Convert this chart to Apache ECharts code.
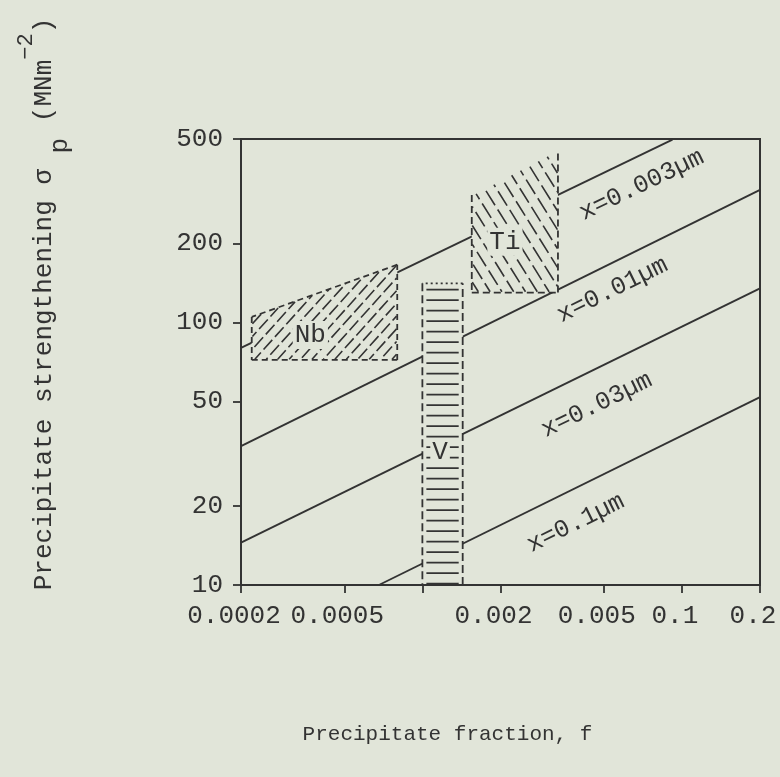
<!DOCTYPE html>
<html>
<head>
<meta charset="utf-8">
<script src="https://cdn.jsdelivr.net/npm/echarts@6/dist/echarts.min.js"></script>
<style>
  html, body { margin: 0; padding: 0; background: #e1e5d9; }
  #chart { width: 780px; height: 777px; }
</style>
</head>
<body>
<div id="chart"></div>
<script>
// Precipitate fraction axis (log scale): tick values and their printed labels
const fractionTicks = [0.0002, 0.0005, 0.001, 0.002, 0.005, 0.01, 0.02];
const fractionTickLabels = ['0.0002', '0.0005', '', '0.002', '0.005', '0.1', '0.2'];

// Precipitation strengthening axis (MN m^-2, log scale)
const strengthTicks = [10, 20, 50, 100, 200, 500];
const strengthTickLabels = ['10', '20', '50', '100', '200', '500'];

// Lines of constant particle size, [fraction, strength] end points
const sizeNames = ['x=0.003µm', 'x=0.01µm', 'x=0.03µm', 'x=0.1µm'];
const size003 = [[0.0002, 80], [0.0092, 497]];
const size01 = [[0.0002, 33.8], [0.02, 320]];
const size03 = [[0.0002, 14.5], [0.02, 135]];
const size1 = [[0.00068, 10], [0.02, 52]];
const sizeLabelAt = [[0.0070, 334], [0.0054, 133], [0.0047, 48.5], [0.0039, 17.2]];

// Ranges reached by each microalloying element, corners as [fraction, strength]
// (bottom-left, bottom-right, top-right, top-left)
const elementNames = ['Nb', 'Ti', 'V'];
const nbRange = [[0.00022, 72], [0.0008, 72], [0.0008, 166], [0.00022, 105]];
const tiRange = [[0.00155, 130], [0.00333, 130], [0.00333, 454], [0.00155, 306]];
const vRange = [[0.001, 10], [0.00143, 10], [0.00143, 141], [0.001, 141]];
const elementLabelAt = [[0.00037, 89.6], [0.00208, 203], [0.00117, 32.1]];

const sizeLines = [size003, size01, size03, size1];
const elementRanges = [nbRange, tiRange, vRange];

const INK = '#333333';
const PAPER = '#e1e5d9';
const FONT = '"Liberation Mono", "DejaVu Sans Mono", monospace';

// hatching and outline look of each range
const rangeLook = [
  { angle: 48, gap: 8.5, dash: [13, 4], inset: 1, edges: [0, 1, 2, 3], edgeDash: [6, 4] },
  { angle: 122, gap: 10, dash: [17, 5], inset: 1, edges: [0, 1, 3], edgeDash: [7, 4] },
  { angle: 0, gap: 10.5, dash: null, inset: 4, edges: [1, 3], edgeDash: [8, 4], dotted: [2] }
];

function tickText(values, texts) {
  return function (v) {
    const i = values.findIndex(t => Math.abs(t - v) <= t * 1e-6);
    return i < 0 ? '' : texts[i];
  };
}

function cross(u, v) { return u[0] * v[1] - u[1] * v[0]; }

// segment of the line o + t*d lying inside a convex polygon
function clipToPolygon(pts, o, d) {
  const ts = [];
  for (let k = 0; k < pts.length; k++) {
    const a = pts[k], b = pts[(k + 1) % pts.length];
    const e = [b[0] - a[0], b[1] - a[1]];
    const den = cross(d, e);
    if (Math.abs(den) < 1e-9) continue;
    const w = [a[0] - o[0], a[1] - o[1]];
    const t = cross(w, e) / den;
    const s = cross(w, d) / den;
    if (s >= -1e-9 && s <= 1 + 1e-9) ts.push(t);
  }
  if (ts.length < 2) return null;
  return [Math.min(...ts), Math.max(...ts)];
}

function renderRange(params, api) {
  const i = params.dataIndex;
  const look = rangeLook[i];
  const pts = elementRanges[i].map(c => api.coord(c));
  const children = [{ type: 'polygon', shape: { points: pts }, style: { fill: PAPER } }];

  const a = look.angle * Math.PI / 180;
  const d = [Math.cos(a), -Math.sin(a)];
  const n = [-d[1], d[0]];
  const proj = pts.map(p => p[0] * n[0] + p[1] * n[1]);
  const lo = Math.min(...proj), hi = Math.max(...proj);
  let idx = 0;
  for (let k = lo + look.gap * 0.6; k < hi; k += look.gap, idx++) {
    const o = [n[0] * k, n[1] * k];
    const seg = clipToPolygon(pts, o, d);
    if (!seg) continue;
    const t0 = seg[0] + look.inset, t1 = seg[1] - look.inset;
    if (t1 - t0 < 3) continue;
    children.push({
      type: 'line',
      shape: { x1: o[0] + d[0] * t0, y1: o[1] + d[1] * t0, x2: o[0] + d[0] * t1, y2: o[1] + d[1] * t1 },
      style: { stroke: INK, lineWidth: 1.6, lineDash: look.dash, lineDashOffset: (idx * 7) % 17 }
    });
  }

  const outline = (e, dash) => {
    const p = pts[e], q = pts[(e + 1) % pts.length];
    children.push({
      type: 'line',
      shape: { x1: p[0], y1: p[1], x2: q[0], y2: q[1] },
      style: { stroke: INK, lineWidth: 1.8, lineDash: dash }
    });
  };
  look.edges.forEach(e => outline(e, look.edgeDash));
  (look.dotted || []).forEach(e => outline(e, [2, 3]));

  const c = api.coord(elementLabelAt[i]);
  children.push({
    type: 'text', x: c[0], y: c[1],
    style: {
      text: elementNames[i], font: '26px ' + FONT, fill: INK,
      align: 'center', verticalAlign: 'middle', backgroundColor: PAPER, padding: [1, 2]
    }
  });
  return { type: 'group', children: children };
}

function renderSizeLabel(params, api) {
  const i = params.dataIndex;
  const p1 = api.coord(sizeLines[i][0]);
  const p2 = api.coord(sizeLines[i][1]);
  const angle = Math.atan2(p1[1] - p2[1], p2[0] - p1[0]);
  const c = api.coord(sizeLabelAt[i]);
  return {
    type: 'text', x: c[0], y: c[1], rotation: angle,
    style: { text: sizeNames[i], font: '25px ' + FONT, fill: INK, align: 'center', verticalAlign: 'middle' }
  };
}

const chart = echarts.init(document.getElementById('chart'), null, { renderer: 'canvas' });

const lineSeries = sizeLines.map((pts, i) => ({
  name: sizeNames[i],
  type: 'line',
  data: pts,
  symbol: 'none',
  silent: true,
  z: 2,
  lineStyle: { color: INK, width: 1.9 }
}));

chart.setOption({
  animation: false,
  backgroundColor: PAPER,
  grid: {
    left: 241, right: 20, top: 139, bottom: 192,
    show: true, borderColor: INK, borderWidth: 2, backgroundColor: 'transparent'
  },
  xAxis: {
    type: 'log', logBase: 10, min: 0.0002, max: 0.02, z: 6,
    name: 'Precipitate fraction, f',
    nameLocation: 'middle', nameGap: 139,
    nameTextStyle: { fontFamily: FONT, fontSize: 21, color: INK, padding: [0, 106, 0, 0] },
    axisLine: { lineStyle: { color: INK, width: 2 } },
    axisTick: { customValues: fractionTicks, length: 8, lineStyle: { color: INK, width: 1.8 } },
    axisLabel: {
      customValues: fractionTicks, formatter: tickText(fractionTicks, fractionTickLabels),
      fontFamily: FONT, fontSize: 26, color: INK, margin: 18, hideOverlap: false,
      padding: [0, 14, 0, 0]
    },
    splitLine: { show: false }, minorTick: { show: false }
  },
  yAxis: {
    type: 'log', logBase: 10, min: 10, max: 500, z: 6,
    name: '{m|Precipitate strengthening σ} {s|p} {m|(MNm}{u|−2}{m|)}',
    nameLocation: 'middle', nameRotate: 90, nameGap: 168,
    nameTextStyle: {
      fontFamily: FONT, fontSize: 26, color: INK, padding: [0, 0, 0, 116],
      rich: {
        m: { fontFamily: FONT, fontSize: 26, color: INK, lineHeight: 58 },
        s: { fontFamily: FONT, fontSize: 26, color: INK, lineHeight: 28, verticalAlign: 'bottom' },
        u: { fontFamily: FONT, fontSize: 22, color: INK, lineHeight: 24, verticalAlign: 'top' }
      }
    },
    axisLine: { lineStyle: { color: INK, width: 2 } },
    axisTick: { customValues: strengthTicks, length: 8, lineStyle: { color: INK, width: 1.8 } },
    axisLabel: {
      customValues: strengthTicks, formatter: tickText(strengthTicks, strengthTickLabels),
      fontFamily: FONT, fontSize: 26, color: INK, margin: 18, hideOverlap: false
    },
    splitLine: { show: false }, minorTick: { show: false }
  },
  series: lineSeries.concat([
    {
      name: 'ranges',
      type: 'custom',
      coordinateSystem: 'cartesian2d',
      data: elementLabelAt,
      encode: { x: 0, y: 1 },
      renderItem: renderRange,
      silent: true,
      clip: false,
      z: 3
    },
    {
      name: 'size labels',
      type: 'custom',
      coordinateSystem: 'cartesian2d',
      data: sizeLabelAt,
      encode: { x: 0, y: 1 },
      renderItem: renderSizeLabel,
      silent: true,
      clip: false,
      z: 4
    }
  ])
});
</script>
</body>
</html>
